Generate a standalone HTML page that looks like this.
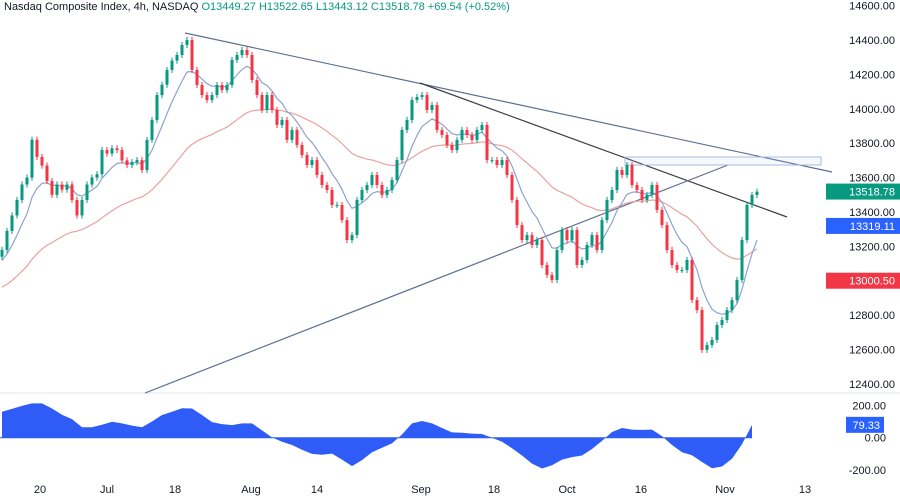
<!DOCTYPE html>
<html><head><meta charset="utf-8"><style>
body{margin:0;background:#fff;font-family:"Liberation Sans",sans-serif;}
svg{display:block}
</style></head><body>
<svg id="c" width="900" height="497" xmlns="http://www.w3.org/2000/svg">
<rect width="900" height="497" fill="#fff"/>
<text x="4" y="10" font-size="11" fill="#131722">Nasdaq Composite Index, 4h, NASDAQ <tspan fill="#089981">O13449.27  H13522.65  L13443.12  C13518.78  +69.54 (+0.52%)</tspan></text>
<line x1="0" y1="393" x2="900" y2="393" stroke="#e0e3eb"/>
<g id="price"></g><g id="osc"></g><g id="axes"></g>
</svg>
<script>
const closes=[13180,13290,13380,13470,13560,13600,13820,13720,13670,13580,13500,13560,13530,13560,13470,13380,13470,13560,13600,13620,13760,13740,13770,13760,13700,13673,13690,13702,13644,13819,13935,14080,14140,14226,14280,14313,14371,14400,14226,14138,14080,14051,14080,14138,14109,14138,14284,14313,14342,14313,14167,14080,13993,14080,13993,13906,13935,13819,13877,13790,13731,13673,13702,13615,13557,13528,13441,13441,13353,13237,13266,13470,13528,13557,13615,13557,13499,13528,13586,13702,13877,13935,14051,14069,14080,13993,14022,13877,13848,13790,13760,13819,13877,13848,13819,13877,13906,13702,13702,13673,13702,13615,13470,13324,13237,13266,13208,13237,13092,13034,13005,13179,13295,13237,13295,13092,13121,13208,13266,13179,13353,13470,13528,13644,13615,13673,13557,13528,13470,13499,13557,13412,13324,13179,13092,13063,13063,13121,12888,12830,12598,12627,12656,12743,12772,12830,12888,13005,13237,13441,13499,13518];
const oscValues=[160,178,196,212,212,180,142,115,64,64,80,99,88,75,64,100,140,160,182,180,140,96,84,78,88,88,45,2,-25,-45,-75,-100,-105,-98,-135,-175,-138,-90,-62,-35,20,88,103,88,60,33,30,25,23,0,-25,-65,-110,-160,-190,-170,-135,-120,-110,-70,-20,35,60,50,48,50,10,-45,-90,-108,-150,-188,-178,-130,-40,79];
const priceTicks=[14600,14400,14200,14000,13800,13600,13400,13200,13000,12800,12600,12400];
const oscTicks=[200,0,-200];
const timeLabels=["20","Jul","18","Aug","14","Sep","18","Oct","16","Nov","13"];
const timeIdx=[7.6,21,34.6,49.8,63,83.8,98.4,113,127.8,144.6,160.6];
const NS="http://www.w3.org/2000/svg";
const yP=p=>40+(14400-p)*0.172;
const yO=v=>437.7-v*0.162;
const xC=i=>i*5+2;
function mk(t,a,parent){const e=document.createElementNS(NS,t);for(const k in a)e.setAttribute(k,a[k]);parent.appendChild(e);return e;}
const gp=document.getElementById('price'),go=document.getElementById('osc'),ga=document.getElementById('axes');
let l;
l=mk('line',{x1:185,y1:33,x2:832,y2:172,stroke:'#5d6f94','stroke-width':1.2},gp);

l=mk('line',{x1:420,y1:83,x2:787,y2:217,stroke:'#3a3d45','stroke-width':1.2},gp);

l=mk('line',{x1:145,y1:393,x2:728,y2:165,stroke:'#5d6f94','stroke-width':1.2},gp);

l=mk('rect',{x:625,y:157,width:196,height:8,fill:'rgba(190,205,235,0.15)',stroke:'#a9bbe0','stroke-width':1},gp);

function ema(n,seed){let out=[],v=seed;closes.forEach(c=>{v=v+(c-v)*2/(n+1);out.push(v);});return out;}
const fast=ema(8,13100),slow=ema(36,12950);
[[slow,'#e8a2a2','slow-ma-line'],[fast,'#8ca2cf','fast-ma-line']].forEach(([arr,col,nm])=>{
 const p=mk('polyline',{points:arr.map((v,i)=>xC(i)+','+yP(v).toFixed(1)).join(' '),fill:'none',stroke:col,'stroke-width':1.2},gp);
 });
closes.forEach((c,i)=>{
 const o=i?closes[i-1]:c-40;const up=c>=o;const col=up?'#089981':'#f23645';
 const x=xC(i);const hi=Math.max(o,c)+18,lo=Math.min(o,c)-18;
 const g=mk('g',{},gp);
 
 
 mk('line',{x1:x,x2:x,y1:yP(hi),y2:yP(lo),stroke:col,'stroke-width':1},g);
 const t=yP(Math.max(o,c)),b=yP(Math.min(o,c));
 mk('rect',{x:x-1.5,y:t,width:3,height:Math.max(1,b-t),fill:col},g);
});
let d='M'+xC(0)+','+yO(0);
oscValues.forEach((v,i)=>{d+=' L'+xC(i*2)+','+yO(v).toFixed(1);});
d+=' L'+xC((oscValues.length-1)*2)+','+yO(0)+'Z';
l=mk('path',{d:d,fill:'#2f5cf6'},go);

l=mk('line',{x1:0,x2:xC((oscValues.length-1)*2),y1:yO(0),y2:yO(0),stroke:'#2f5cf6','stroke-width':1},go);

priceTicks.forEach(p=>{const t=mk('text',{x:895,y:yP(p)+4,'font-size':11,fill:'#131722','text-anchor':'end'},ga);t.textContent=p.toFixed(2);
 });
oscTicks.forEach(v=>{const t=mk('text',{x:886,y:yO(v)+4,'font-size':11,fill:'#131722','text-anchor':'end'},ga);t.textContent=v.toFixed(2);
 });
timeLabels.forEach((s,i)=>{const t=mk('text',{x:xC(timeIdx[i]),y:493,'font-size':11,fill:'#131722','text-anchor':'middle'},ga);t.textContent=s;
 });
[[13518.78,'#089981','last-price-badge'],[13319.11,'#2962ff','fast-ma-badge'],[13000.50,'#f23645','slow-ma-badge']].forEach(([v,col,nm])=>{
 const g=mk('g',{},ga);
 
 
 const y=yP(v);mk('rect',{x:826,y:y-8,width:74,height:16,fill:col},g);
 const t=mk('text',{x:895,y:y+4,'font-size':11,fill:'#fff','text-anchor':'end'},g);t.textContent=v.toFixed(2);});
{const g=mk('g',{},ga);
 
 
 const y=yO(79.33);mk('rect',{x:846,y:y-8,width:38,height:16,fill:'#2962ff'},g);
 const t=mk('text',{x:880,y:y+4,'font-size':11,fill:'#fff','text-anchor':'end'},g);t.textContent='79.33';}
</script>
</body></html>
